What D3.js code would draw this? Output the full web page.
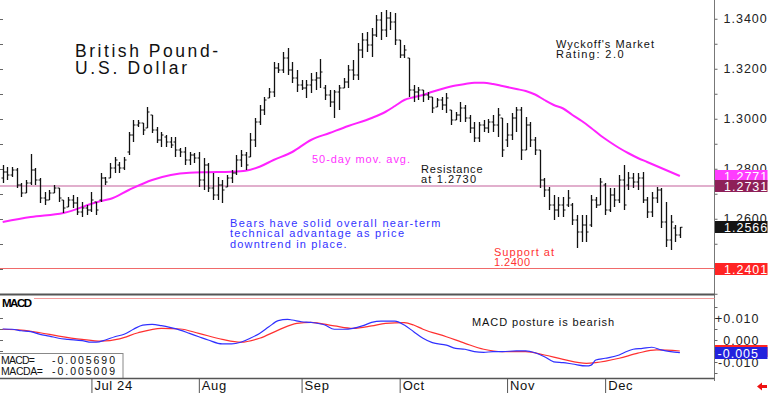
<!DOCTYPE html>
<html><head><meta charset="utf-8">
<script src="https://cdn.jsdelivr.net/npm/d3@7"></script>
<style>
body{margin:0;background:#fff;overflow:hidden}
svg{display:block}
text{font-family:"Liberation Sans",Arial,sans-serif}
</style>
</head><body>
<svg id="c" width="768" height="393"></svg>
<script>
// ---------------- DATA ----------------
const months = ["Jul 24","Aug","Sep","Oct","Nov","Dec"];
const monthStart = [19,42,64,85,108,129];

const high = [1.2815,1.2807,1.2807,1.2803,1.2743,1.2755,1.2859,1.2803,1.2763,1.2707,
1.2715,1.2735,1.2723,1.2675,1.2687,1.2695,1.2687,1.2667,1.2655,1.2707,
1.2667,1.2783,1.2767,1.2823,1.2847,1.2827,1.2847,1.2947,1.2995,1.2995,
1.2983,1.3047,1.3015,1.2967,1.2947,1.2935,1.2927,1.2927,1.2883,1.2887,
1.2867,1.2863,1.2867,1.2843,1.2823,1.2783,1.2767,1.2755,1.2775,1.2795,
1.2855,1.2875,1.2867,1.2943,1.3003,1.3055,1.3087,1.3123,1.3227,1.3223,
1.3267,1.3283,1.3227,1.3195,1.3155,1.3155,1.3183,1.3187,1.3239,1.3135,
1.3115,1.3115,1.3135,1.3163,1.3215,1.3235,1.3303,1.3343,1.3347,1.3363,
1.3415,1.3427,1.3435,1.3427,1.3423,1.3315,1.3295,1.3243,1.3135,1.3127,
1.3115,1.3107,1.3087,1.3083,1.3087,1.3103,1.3035,1.3027,1.3067,1.3055,
1.3015,1.2987,1.2987,1.2995,1.2999,1.3015,1.3043,1.3003,1.2983,1.3023,
1.3047,1.3047,1.3007,1.2987,1.2927,1.2875,1.2763,1.2727,1.2695,1.2687,
1.2687,1.2715,1.2663,1.2615,1.2615,1.2615,1.2695,1.2687,1.2763,1.2743,
1.2723,1.2723,1.2775,1.2815,1.2787,1.2783,1.2783,1.2787,1.2687,1.2707,
1.2727,1.2723,1.2667,1.2615,1.2575,1.2567];
const low = [1.2743,1.2755,1.2767,1.2723,1.2687,1.2703,1.2735,1.2735,1.2663,1.2655,
1.2675,1.2703,1.2667,1.2623,1.2647,1.2643,1.2615,1.2607,1.2615,1.2627,
1.2615,1.2667,1.2735,1.2763,1.2783,1.2783,1.2795,1.2855,1.2907,1.2967,
1.2935,1.2963,1.2943,1.2903,1.2887,1.2887,1.2883,1.2847,1.2847,1.2815,
1.2815,1.2823,1.2727,1.2715,1.2707,1.2675,1.2675,1.2663,1.2727,1.2743,
1.2775,1.2807,1.2795,1.2847,1.2887,1.2975,1.3015,1.3083,1.3087,1.3183,
1.3183,1.3175,1.3143,1.3107,1.3115,1.3083,1.3103,1.3115,1.3123,1.3075,
1.3047,1.3003,1.3035,1.3123,1.3123,1.3155,1.3155,1.3243,1.3267,1.3247,
1.3327,1.3315,1.3327,1.3355,1.3295,1.3243,1.3243,1.3087,1.3067,1.3075,
1.3067,1.3075,1.3023,1.3047,1.3035,1.3023,1.2975,1.2995,1.2987,1.2987,
1.2943,1.2907,1.2907,1.2947,1.2943,1.2947,1.2927,1.2847,1.2887,1.2915,
1.2947,1.2835,1.2875,1.2887,1.2855,1.2723,1.2687,1.2635,1.2595,1.2607,
1.2607,1.2647,1.2575,1.2483,1.2507,1.2507,1.2567,1.2643,1.2655,1.2615,
1.2627,1.2647,1.2663,1.2635,1.2715,1.2723,1.2715,1.2663,1.2603,1.2607,
1.2663,1.2563,1.2487,1.2475,1.2507,1.2523];
const open = [1.2763,1.2787,1.2775,1.2795,1.2735,1.2703,1.2743,1.2795,1.2755,1.2683,
1.2675,1.2703,1.2723,1.2675,1.2647,1.2675,1.2663,1.2627,1.2643,1.2635,
1.2667,1.2675,1.2763,1.2763,1.2803,1.2815,1.2803,1.2867,1.2935,1.2975,
1.2983,1.2963,1.3015,1.2955,1.2915,1.2927,1.2907,1.2907,1.2875,1.2867,
1.2835,1.2855,1.2843,1.2755,1.2815,1.2723,1.2695,1.2735,1.2727,1.2763,
1.2783,1.2835,1.2855,1.2847,1.2915,1.2987,1.3035,1.3083,1.3107,1.3203,
1.3195,1.3243,1.3195,1.3163,1.3135,1.3123,1.3135,1.3155,1.3163,1.3123,
1.3095,1.3067,1.3107,1.3123,1.3147,1.3195,1.3175,1.3275,1.3315,1.3295,
1.3335,1.3395,1.3355,1.3403,1.3387,1.3315,1.3255,1.3243,1.3115,1.3107,
1.3115,1.3095,1.3087,1.3047,1.3075,1.3055,1.3035,1.2995,1.3015,1.3043,
1.3003,1.2963,1.2923,1.2975,1.2963,1.2987,1.2975,1.3003,1.2915,1.2935,
1.3003,1.3035,1.2875,1.2975,1.2915,1.2875,1.2755,1.2715,1.2655,1.2635,
1.2655,1.2655,1.2655,1.2595,1.2547,1.2575,1.2575,1.2675,1.2655,1.2735,
1.2635,1.2695,1.2675,1.2755,1.2735,1.2763,1.2747,1.2763,1.2675,1.2627,
1.2683,1.2715,1.2587,1.2515,1.2563,1.2535];
const close = [1.2787,1.2775,1.2795,1.2735,1.2703,1.2743,1.2795,1.2755,1.2683,1.2675,
1.2703,1.2723,1.2683,1.2643,1.2675,1.2663,1.2627,1.2643,1.2635,1.2675,
1.2635,1.2763,1.2747,1.2803,1.2835,1.2803,1.2835,1.2935,1.2975,1.2983,
1.2955,1.3027,1.2955,1.2915,1.2935,1.2907,1.2895,1.2875,1.2867,1.2835,
1.2855,1.2843,1.2755,1.2815,1.2723,1.2695,1.2735,1.2715,1.2763,1.2783,
1.2835,1.2855,1.2815,1.2915,1.2987,1.3035,1.3075,1.3107,1.3203,1.3195,
1.3243,1.3195,1.3163,1.3135,1.3123,1.3135,1.3155,1.3163,1.3187,1.3095,
1.3067,1.3107,1.3123,1.3147,1.3195,1.3175,1.3275,1.3315,1.3295,1.3335,
1.3395,1.3355,1.3403,1.3387,1.3315,1.3255,1.3275,1.3115,1.3107,1.3115,
1.3095,1.3087,1.3043,1.3075,1.3055,1.3083,1.2995,1.3015,1.3043,1.3003,
1.2963,1.2923,1.2975,1.2963,1.2987,1.2975,1.3015,1.2875,1.2935,1.3003,
1.3035,1.2875,1.2975,1.2915,1.2875,1.2755,1.2715,1.2655,1.2635,1.2655,
1.2635,1.2683,1.2595,1.2547,1.2575,1.2547,1.2675,1.2655,1.2747,1.2635,
1.2695,1.2675,1.2755,1.2655,1.2763,1.2747,1.2763,1.2675,1.2627,1.2683,
1.2715,1.2587,1.2515,1.2587,1.2535,1.2566];

const maIdx = [0,6,13,21,23,27,32,36,40,44,49,52,55,58,62,66,70,74,79,82,84,86,88,90,92,94,97,99,101,103,105,107,110,112,114,116,118,120,122,124,126,128,130,132,134,136,138,140,142,144,145];
const maVal = [1.2587,1.2607,1.2623,1.2671,1.2679,1.2715,1.2755,1.2775,1.2784,1.2786,1.2788,1.2792,1.2808,1.2835,1.2867,1.2915,1.2943,1.2971,1.3003,1.3028,1.3051,1.3075,1.3086,1.3095,1.3108,1.3119,1.3133,1.3139,1.3144,1.3144,1.3139,1.3131,1.3119,1.3111,1.3097,1.3075,1.3055,1.3041,1.3015,1.2991,1.2963,1.2933,1.2907,1.2883,1.2862,1.2843,1.2827,1.2811,1.2795,1.2779,1.2771];

const macdIdx = [0,2,4,6,8,10,12,14,17,19,20,22,24,26,28,30,32,34,36,38,40,42,44,47,49,51,53,55,57,59,61,62,64,66,69,71,73,75,77,79,81,84,86,88,90,92,95,97,99,101,103,105,107,110,112,114,116,118,120,122,125,126,127,129,132,133,135,137,139,141,143,145];
const macdVal = [0.0050,0.0049,0.0042,0.0038,0.0026,0.0018,0.0008,0.0003,-0.0003,-0.0010,-0.0010,0.0000,0.0015,0.0026,0.0049,0.0068,0.0071,0.0065,0.0056,0.0045,0.0030,0.0015,0.0000,-0.0018,-0.0018,-0.0010,0.0008,0.0030,0.0060,0.0088,0.0094,0.0091,0.0083,0.0080,0.0068,0.0049,0.0049,0.0053,0.0064,0.0080,0.0086,0.0086,0.0068,0.0038,0.0008,-0.0012,-0.0023,-0.0038,-0.0042,-0.0053,-0.0056,-0.0053,-0.0053,-0.0049,-0.0049,-0.0058,-0.0076,-0.0099,-0.0103,-0.0109,-0.0118,-0.0114,-0.0091,-0.0083,-0.0068,-0.0058,-0.0042,-0.0038,-0.0033,-0.0045,-0.0053,-0.0057];
const sigIdx = [0,4,8,12,17,21,25,29,34,38,42,47,51,55,59,63,66,71,75,79,82,86,88,90,95,99,103,107,112,116,120,125,127,132,136,140,145];
const sigVal = [0.0049,0.0045,0.0033,0.0018,0.0003,-0.0005,0.0005,0.0033,0.0053,0.0050,0.0030,0.0003,-0.0010,0.0008,0.0045,0.0076,0.0080,0.0064,0.0053,0.0064,0.0076,0.0079,0.0068,0.0049,0.0015,-0.0015,-0.0042,-0.0053,-0.0053,-0.0068,-0.0088,-0.0106,-0.0103,-0.0083,-0.0060,-0.0045,-0.0050];

const priceLabels = [1.34,1.32,1.30,1.28,1.26];
const macdLabels = [0.01,0,-0.01];
const resistance = 1.2731, support = 1.2401, lastMA = 1.2771, lastClose = 1.2566;
const lastMacd = -0.005690, lastMacda = -0.005009;

// ---------------- SCALES ----------------
const svg = d3.select("#c");
const x = d3.scaleLinear().domain([-0.578,152.31]).range([0,714]);
const y = d3.scaleLinear().domain([1.2299,1.3475]).range([294,0]);
const ym = d3.scaleLinear().domain([-0.01727,0.0191]).range([378,298]);
const AX = 714.5;

// ---------------- AXES ----------------
const minor = d3.range(1.23,1.3451,0.01);
svg.append("g").selectAll("line").data(minor).join("line")
  .attr("x1",0).attr("x2",3).attr("y1",d=>Math.round(y(d))+0.5).attr("y2",d=>Math.round(y(d))+0.5)
  .attr("stroke","#666").attr("stroke-width",1);
const gy = svg.append("g").attr("transform",`translate(${AX},0)`)
  .call(d3.axisRight(y).tickValues(minor).tickSize(3).tickFormat(""));
gy.select(".domain").remove();
gy.selectAll("line").attr("stroke","#666");
const gyl = svg.append("g").attr("transform",`translate(${AX},0)`)
  .call(d3.axisRight(y).tickValues(priceLabels).tickSize(0).tickPadding(9).tickFormat(d3.format(".4f")));
gyl.select(".domain").remove();
gyl.selectAll("text").attr("font-size",12.5).attr("fill","#222").attr("letter-spacing","1px")
  .attr("font-family","'Liberation Sans',Arial,sans-serif");
svg.append("line").attr("x1",AX).attr("x2",AX).attr("y1",0).attr("y2",381).attr("stroke","#777");

const mminor = d3.range(-0.015,0.0176,0.005);
svg.append("g").selectAll("line").data(mminor).join("line")
  .attr("x1",0).attr("x2",3).attr("y1",d=>Math.round(ym(d))+0.5).attr("y2",d=>Math.round(ym(d))+0.5)
  .attr("stroke","#666");
const gm = svg.append("g").attr("transform",`translate(${AX},0)`)
  .call(d3.axisRight(ym).tickValues(mminor).tickSize(3).tickFormat(""));
gm.select(".domain").remove(); gm.selectAll("line").attr("stroke","#666");
const gml = svg.append("g").attr("transform",`translate(${AX},0)`)
  .call(d3.axisRight(ym).tickValues(macdLabels).tickSize(0).tickPadding(45)
    .tickFormat(d=> d>0 ? "+"+d.toFixed(3) : d.toFixed(3)));
gml.select(".domain").remove();
gml.selectAll("text").attr("font-size",12.5).attr("fill","#222").attr("letter-spacing","1px")
  .attr("text-anchor","end").attr("font-family","'Liberation Sans',Arial,sans-serif");

// ---------------- REFERENCE LINES ----------------
svg.append("line").attr("x1",0).attr("x2",AX).attr("y1",y(resistance)).attr("y2",y(resistance))
  .attr("stroke","#c4609c").attr("stroke-width",1.2);
svg.append("line").attr("x1",0).attr("x2",AX).attr("y1",y(support)).attr("y2",y(support))
  .attr("stroke","#f06a6a").attr("stroke-width",1.2);

// ---------------- MA ----------------
const maPts = maIdx.map((d,i)=>[d,maVal[i]]);
svg.append("path").datum(maPts)
  .attr("d", d3.line().x(d=>x(d[0])).y(d=>y(d[1])).curve(d3.curveMonotoneX))
  .attr("fill","none").attr("stroke","#ff22ff").attr("stroke-width",2);

// ---------------- BARS ----------------
const bars = svg.append("g");
high.forEach((h,i)=>{
  const cx = Math.round(x(i))+0.5;
  bars.append("line").attr("x1",cx).attr("x2",cx).attr("y1",y(h)).attr("y2",y(low[i]))
    .attr("stroke","#111").attr("stroke-width",1.3);
  bars.append("line").attr("x1",cx-2).attr("x2",cx).attr("y1",y(open[i])).attr("y2",y(open[i]))
    .attr("stroke","#111").attr("stroke-width",1);
  bars.append("line").attr("x1",cx).attr("x2",cx+2).attr("y1",y(close[i])).attr("y2",y(close[i]))
    .attr("stroke","#111").attr("stroke-width",1);
});

// ---------------- TEXT ----------------
function txt(xx,yy,s,size,color,len,weight){
  const t = svg.append("text").attr("x",xx).attr("y",yy).text(s)
    .attr("font-size",size).attr("fill",color);
  if(len){ t.attr("textLength",len).attr("lengthAdjust","spacing"); }
  if(weight) t.attr("font-weight",weight);
  return t;
}
txt(75,57,"British Pound-",17.5,"#111",143);
txt(75,74,"U.S. Dollar",17.5,"#111",112);
txt(556,47.5,"Wyckoff's Market",11,"#111",98);
txt(556,57.8,"Rating: 2.0",11,"#111",67.5);
txt(312,163,"50-day mov. avg.",11,"#ff33ff",98);
txt(421,172.5,"Resistance",11,"#111",61.5);
txt(421,182.7,"at 1.2730",11,"#111",55);
txt(230,227,"Bears have solid overall near-term",11,"#3333ff",210.5);
txt(230,237.3,"technical advantage as price",11,"#3333ff",174);
txt(230,247.5,"downtrend in place.",11,"#3333ff",116.5);
txt(494,256,"Support at",11,"#ff3333",60);
txt(494,266.2,"1.2400",11,"#ff3333",36);
txt(472,326,"MACD posture is bearish",11,"#111",142);

// ---------------- VALUE BOXES ----------------
function box(v,yy,fill,label){
  const cy = Math.round(yy);
  svg.append("rect").attr("x",AX+0.5).attr("y",cy-6).attr("width",767-AX).attr("height",12).attr("fill",fill);
  svg.append("text").attr("x",724).attr("y",cy+4.5).text(label)
    .attr("font-size",12.5).attr("fill","#fff").attr("letter-spacing","1px");
}
box(lastMA,y(lastMA),"#ff3cff",d3.format(".4f")(lastMA));
box(resistance,y(resistance),"#8e2058",d3.format(".4f")(resistance));
box(lastClose,y(lastClose),"#141414",d3.format(".4f")(lastClose));
box(support,y(support),"#ff2424",d3.format(".4f")(support));

// ---------------- PANEL DIVIDER ----------------
svg.append("line").attr("x1",0).attr("x2",AX).attr("y1",294.5).attr("y2",294.5).attr("stroke","#555").attr("stroke-width",2);
svg.append("line").attr("x1",0).attr("x2",AX).attr("y1",298.5).attr("y2",298.5).attr("stroke","#f59a9a").attr("stroke-width",1);
svg.append("rect").attr("x",0).attr("y",298).attr("width",34).attr("height",11).attr("fill","#fff");
txt(2,307,"MACD",11.5,"#000",30,"bold");

// ---------------- MACD ----------------
const mline = d3.line().x(d=>x(d[0])).y(d=>ym(d[1])).curve(d3.curveMonotoneX);
svg.append("path").datum(sigIdx.map((d,i)=>[d,sigVal[i]])).attr("d",mline)
  .attr("fill","none").attr("stroke","#ff3030").attr("stroke-width",1.2);
svg.append("path").datum(macdIdx.map((d,i)=>[d,macdVal[i]])).attr("d",mline)
  .attr("fill","none").attr("stroke","#3030ff").attr("stroke-width",1.2);

// macd value boxes (value truncated to 3 decimals, as in the reference)
function mbox(v,fill,showText){
  const cy = Math.round(ym(v));
  svg.append("rect").attr("x",AX+0.5).attr("y",cy-6).attr("width",767-AX).attr("height",12).attr("fill",fill);
  if(showText){
    const s = (v<0?"-":"") + (Math.floor(Math.abs(v)*1000)/1000).toFixed(3);
    svg.append("text").attr("x",759).attr("y",cy+4.5).text(s).attr("text-anchor","end")
      .attr("font-size",12.5).attr("fill","#fff").attr("letter-spacing","1px");
  }
}
mbox(lastMacda,"#ff2424",false);
mbox(lastMacd,"#2222dd",true);

// legend box
svg.append("rect").attr("x",-1).attr("y",353.5).attr("width",124).attr("height",25).attr("fill","#fff").attr("stroke","#888");
txt(1,364,"MACD=",10.5,"#111",34);
txt(52,364,d3.format(".6f")(lastMacd).replace("−","-"),10.5,"#111",63);
txt(1,375,"MACDA=",10.5,"#111",42);
txt(52,375,d3.format(".6f")(lastMacda).replace("−","-"),10.5,"#111",63);

// ---------------- X AXIS ----------------
svg.append("line").attr("x1",0).attr("x2",AX).attr("y1",378.5).attr("y2",378.5).attr("stroke","#555").attr("stroke-width",1.3);
const gx = svg.append("g").attr("transform","translate(0,378)")
  .call(d3.axisBottom(x).tickValues(monthStart).tickSize(15).tickFormat((d,i)=>months[i]));
gx.select(".domain").remove();
gx.selectAll("line").attr("stroke","#555");
gx.selectAll("text").attr("text-anchor","start").attr("x",2.5).attr("y",1).attr("dy","0.85em")
  .attr("font-size",13).attr("fill","#111").attr("letter-spacing","0.6px")
  .attr("font-family","'Liberation Sans',Arial,sans-serif");

// red arrow
svg.append("path").attr("d","M757,386.5 L762,382.5 L762,385 L767,385 L767,388 L762,388 L762,390.5 Z").attr("fill","#ee1111");
</script>
</body></html>
